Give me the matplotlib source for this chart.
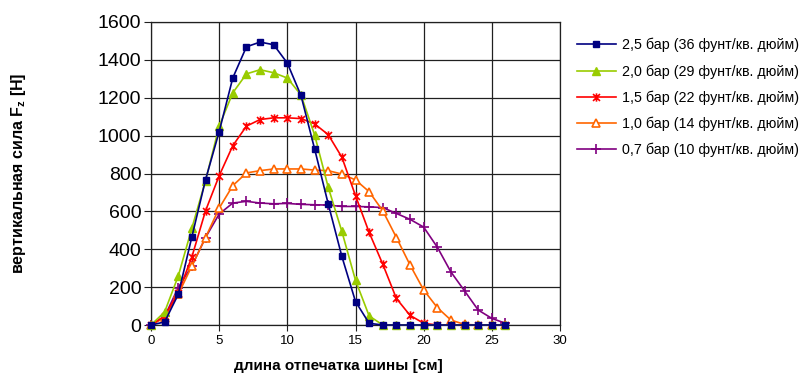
import matplotlib.pyplot as plt
from matplotlib.path import Path
import numpy as np

plt.rcParams['font.family'] = ['Liberation Sans', 'DejaVu Sans']
plt.rcParams['mathtext.fontset'] = 'custom'
plt.rcParams['mathtext.bf'] = 'Liberation Sans:bold'
plt.rcParams['mathtext.rm'] = 'Liberation Sans'

# длина отпечатка [см]
x = np.arange(0, 27)

# вертикальная сила [Н]
p25 = [0, 16, 162, 466, 767, 1021, 1305, 1469, 1494, 1480, 1383, 1212, 930, 639, 362, 124, 9,
       0, 0, 0, 0, 0, 0, 0, 0, 0, 0]
p20 = [0, 69, 259, 512, 762, 1050, 1226, 1326, 1348, 1332, 1304, 1215, 1004, 727, 494, 236, 48,
       0, 0, 0, 0, 0, 0, 0, 0, 0, 0]
p15 = [0, 48, 171, 360, 603, 788, 947, 1050, 1085, 1094, 1094, 1090, 1062, 1005, 886, 683, 489,
       321, 140, 51, 9, 0, 0, 0, 0, 0, 0]
p10 = [0, 39, 162, 312, 462, 617, 736, 803, 815, 824, 824, 824, 818, 815, 797, 766, 704,
       603, 462, 317, 185, 92, 26, 3, 0, 0, 0]
p07 = [0, 45, 198, 312, 462, 586, 644, 653, 644, 640, 642, 637, 635, 633, 626, 626, 624,
       620, 589, 558, 517, 411, 280, 180, 79, 35, 9]

labels = ['2,5 бар (36 фунт/кв. дюйм)', '2,0 бар (29 фунт/кв. дюйм)',
          '1,5 бар (22 фунт/кв. дюйм)', '1,0 бар (14 фунт/кв. дюйм)',
          '0,7 бар (10 фунт/кв. дюйм)']

# звёздочка как в Excel: крест + вертикаль
star = Path([(-1, -1), (1, 1), (-1, 1), (1, -1), (0, -1.2), (0, 1.2)],
            [Path.MOVETO, Path.LINETO, Path.MOVETO, Path.LINETO, Path.MOVETO, Path.LINETO])

fig = plt.figure(figsize=(8.05, 3.74), dpi=100)
ax = fig.add_axes([151 / 805, 1 - 325 / 374, 409 / 805, 303 / 374])

ax.plot(x, p25, color='#000080', marker='s', ms=5, lw=1.2, label=labels[0], clip_on=False, zorder=6)
ax.plot(x, p20, color='#99CC00', marker='^', ms=6, lw=1.2, label=labels[1], clip_on=False, zorder=5)
ax.plot(x, p15, color='#FF0000', marker=star, ms=6, mfc='none', mew=1.2, lw=1.2, label=labels[2],
        clip_on=False, zorder=4)
ax.plot(x, p10, color='#FF6600', marker='^', ms=6, mfc='white', mew=1.2, lw=1.2, label=labels[3],
        clip_on=False, zorder=3)
ax.plot(x, p07, color='#800080', marker='+', ms=7, mew=1.2, lw=1.2, label=labels[4],
        clip_on=False, zorder=2)

ax.set_xlim(0, 30)
ax.set_ylim(0, 1600)
ax.set_xticks(range(0, 31, 5))
ax.set_yticks(range(0, 1601, 200))
ax.grid(True, color='#202020', lw=0.9)
for s in ax.spines.values():
    s.set_color('#202020')
    s.set_linewidth(0.9)
ax.tick_params(axis='y', labelsize=14, length=5, color='#202020', pad=2)
ax.tick_params(axis='x', labelsize=9.5, length=4, color='#202020', pad=3)

ax.set_xlabel('длина отпечатка шины [см]', fontsize=11, fontweight='bold')
ax.xaxis.set_label_coords((338 - 151) / 409, -0.112)
ax.set_ylabel('вертикальная сила F$_\\mathbf{z}$ [Н]', fontsize=11.5, fontweight='bold')
ax.yaxis.set_label_coords(-0.3, 0.5)

fig.legend(loc='upper left', bbox_to_anchor=(577 / 805, 1 - 38 / 374), frameon=False,
           fontsize=10.3, handlelength=2.7, handletextpad=0.45, labelspacing=0.82, borderpad=0,
           borderaxespad=0)

fig.savefig('out.png', dpi=100)
